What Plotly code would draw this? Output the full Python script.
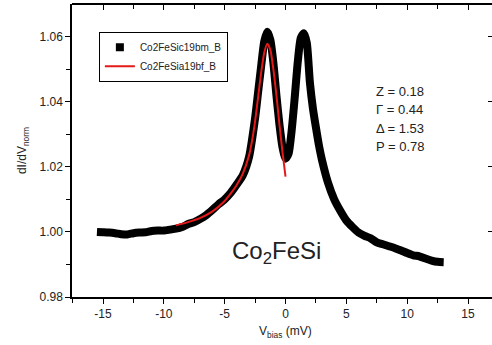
import plotly.graph_objects as go

# Measured differential conductance (bias voltage in mV, normalised dI/dV)
v_meas = [-15.5, -15.0, -14.5, -14.0, -13.5, -13.0, -12.5, -12.0, -11.5, -11.0,
          -10.5, -10.0, -9.5, -9.0, -8.5, -8.0, -7.5, -7.0, -6.5, -6.0,
          -5.5, -5.0, -4.5, -4.0, -3.5, -3.0, -2.5, -2.25, -2.0, -1.75,
          -1.5, -1.25, -1.0, -0.75, -0.5, -0.25, 0.0, 0.25, 0.5, 0.75,
          1.0, 1.25, 1.5, 1.75, 2.0, 2.25, 2.5, 2.75, 3.0, 3.5,
          4.0, 4.5, 5.0, 5.5, 6.0, 6.5, 7.0, 7.5, 8.0, 8.5,
          9.0, 9.5, 10.0, 10.5, 11.0, 11.5, 12.0, 12.5, 13.0]
g_meas = [1.0000, 0.9999, 0.9998, 0.9996, 0.9993, 0.9992, 0.9996, 0.9998, 0.9999, 1.0003,
          1.0004, 1.0004, 1.0007, 1.0010, 1.0015, 1.0024, 1.0030, 1.0040, 1.0052, 1.0068,
          1.0085, 1.0100, 1.0120, 1.0146, 1.0175, 1.0230, 1.0350, 1.0430, 1.0510, 1.0585,
          1.0615, 1.0590, 1.0520, 1.0420, 1.0330, 1.0260, 1.0225, 1.0240, 1.0310, 1.0410,
          1.0520, 1.0595, 1.0610, 1.0580, 1.0460, 1.0380, 1.0320, 1.0265, 1.0220, 1.0150,
          1.0100, 1.0065, 1.0035, 1.0015, 0.9998, 0.9988, 0.9980, 0.9968, 0.9962, 0.9956,
          0.9950, 0.9943, 0.9935, 0.9928, 0.9925, 0.9918, 0.9912, 0.9908, 0.9907]

# Model fit over the negative-bias branch
v_fit = [-9.0, -8.0, -7.0, -6.0, -5.0, -4.5, -4.0, -3.5, -3.0, -2.75,
         -2.5, -2.25, -2.0, -1.75, -1.5, -1.25, -1.0, -0.75, -0.5, -0.25, 0.0]
g_fit = [1.0020, 1.0030, 1.0043, 1.0063, 1.0095, 1.0118, 1.0145, 1.0180, 1.0235, 1.0280,
         1.0340, 1.0415, 1.0490, 1.0550, 1.0578, 1.0560, 1.0500, 1.0420, 1.0330, 1.0245, 1.0170]

name_meas = "Co2FeSic19bm_B"
name_fit = "Co2FeSia19bf_B"
fit_params = ["Z = 0.18", "Γ = 0.44", "Δ = 1.53", "P = 0.78"]

x_ticks = [-15, -10, -5, 0, 5, 10, 15]
x_minor = [-17.5, -12.5, -7.5, -2.5, 2.5, 7.5, 12.5]
y_ticks = [0.98, 1.00, 1.02, 1.04, 1.06]
y_minor = [0.99, 1.01, 1.03, 1.05]
x_range = [-17.55, 16.97]
y_range = [0.98, 1.07]

FONT = "Liberation Sans, Arial, sans-serif"
TXT = "#222222"

fig = go.Figure()

# measured data drawn as a thick black band
fig.add_trace(go.Scatter(x=v_meas, y=g_meas, mode="lines",
                         line=dict(color="black", width=8, shape="spline",
                                   smoothing=0.6, simplify=False),
                         showlegend=False, hoverinfo="skip"))
# legend entry for the measured data (square symbol)
fig.add_trace(go.Scatter(x=[None], y=[None], mode="markers", name=name_meas,
                         marker=dict(symbol="square", color="black", size=8)))
fig.add_trace(go.Scatter(x=v_fit, y=g_fit, mode="lines", name=name_fit,
                         line=dict(color="#e41a1a", width=2, shape="spline",
                                   smoothing=0.6, simplify=False)))
# carrier trace for the mirrored top/right axes
fig.add_trace(go.Scatter(x=[None], y=[None], xaxis="x2", yaxis="y2",
                         showlegend=False, hoverinfo="skip"))

for i, txt in enumerate(fit_params):
    fig.add_annotation(x=7.3, y=1.0431 - i * 0.00565, xref="x", yref="y",
                       text=txt, showarrow=False, xanchor="left", yanchor="middle",
                       font=dict(family=FONT, size=13, color=TXT))

fig.add_annotation(x=-4.6, y=0.9938, xref="x", yref="y",
                   text="Co<sub>2</sub>FeSi", showarrow=False,
                   xanchor="left", yanchor="middle",
                   font=dict(family=FONT, size=24, color=TXT))

# x-axis title
fig.add_annotation(x=0, y=-0.118, xref="x", yref="paper",
                   text="V<sub>bias</sub> (mV)", showarrow=False,
                   xanchor="center", yanchor="middle",
                   font=dict(family=FONT, size=12, color=TXT))

tick_common = dict(showgrid=False, zeroline=False, tickcolor="black",
                   tickwidth=1.3, linecolor="black", linewidth=1.5)

fig.update_layout(
    width=492, height=345,
    margin=dict(l=72, r=0, t=4, b=48),
    paper_bgcolor="white", plot_bgcolor="white",
    font=dict(family=FONT, color=TXT, size=12),
    showlegend=True,
    legend=dict(x=0.064, y=0.905, xanchor="left", yanchor="top",
                bgcolor="white", bordercolor="black", borderwidth=1,
                font=dict(family=FONT, size=10, color=TXT),
                tracegroupgap=0, itemwidth=30),
    xaxis=dict(range=x_range, tickvals=x_ticks, ticktext=[str(t) for t in x_ticks],
               showline=True, ticks="outside", ticklen=5,
               minor=dict(tickvals=x_minor, ticks="outside", ticklen=4,
                          tickwidth=1.3, tickcolor="black"),
               tickfont=dict(family=FONT, size=12, color=TXT), **tick_common),
    yaxis=dict(range=y_range, tickvals=y_ticks, ticktext=["%.2f" % t for t in y_ticks],
               showline=True, ticks="outside", ticklen=5,
               minor=dict(tickvals=y_minor, ticks="outside", ticklen=4,
                          tickwidth=1.3, tickcolor="black"),
               tickfont=dict(family=FONT, size=12, color=TXT),
               title=dict(text="dI/dV<sub>norm</sub>", standoff=10,
                          font=dict(family=FONT, size=12, color=TXT)), **tick_common),
    xaxis2=dict(overlaying="x", side="top", anchor="free", position=1,
                range=x_range, tickvals=x_ticks, showticklabels=False,
                showline=True, ticks="inside", ticklen=5,
                minor=dict(tickvals=x_minor, ticks="inside", ticklen=4,
                           tickwidth=1.3, tickcolor="black"), **tick_common),
    yaxis2=dict(overlaying="y", side="right", anchor="free", position=1,
                range=y_range, tickvals=y_ticks, showticklabels=False,
                showline=False, ticks="inside", ticklen=4, **tick_common),
)

fig.write_html("out.html")
